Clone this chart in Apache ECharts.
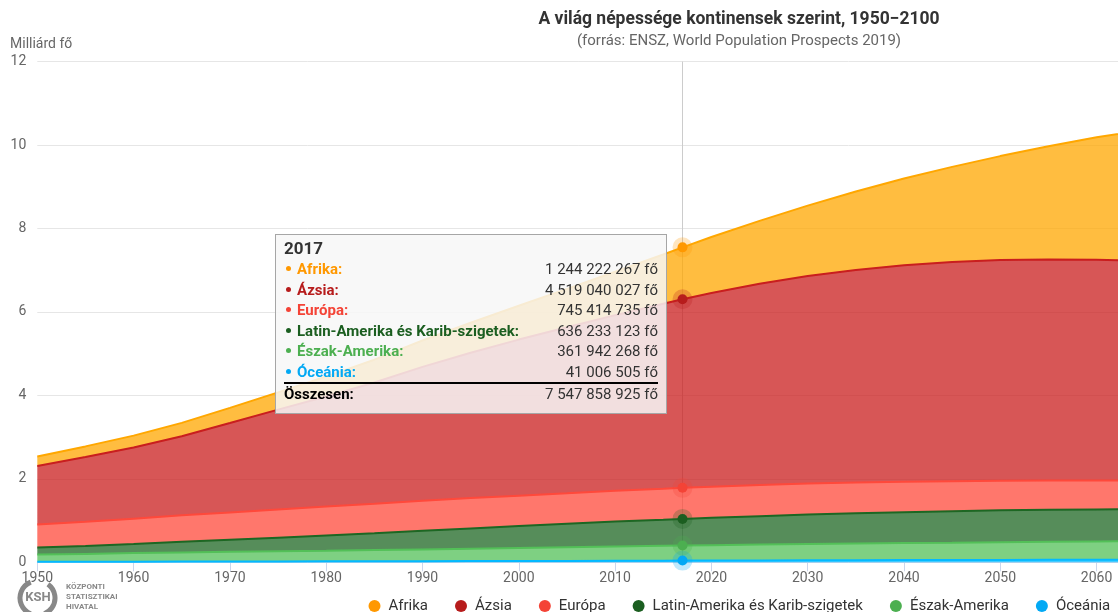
<!DOCTYPE html>
<html><head><meta charset="utf-8">
<script src="https://cdn.jsdelivr.net/npm/echarts@6/dist/echarts.min.js"></script>
<style>html,body{margin:0;padding:0;background:#fff}#c{width:1118px;height:612px}</style>
</head><body><div id="c"></div>
<script>
// Years (x values)
const years = [1950,1955,1960,1965,1970,1975,1980,1985,1990,1995,2000,2005,2010,2015,2017,2020,2025,2030,2035,2040,2045,2050,2055,2060,2065,2070,2075,2080,2085,2090,2095,2100];
// Population, million people
const afrika = [227.8,254.4,285.3,322.0,363.5,414.1,476.4,548.3,630.0,717.0,810.9,921.1,1039.3,1182.4,1244.222267,1340.6,1508.6,1688.3,1878.6,2077.4,2281.0,2489.3,2712.0,2935.0,3150.0,3355.0,3545.0,3725.0,3890.0,4040.0,4170.0,4280.1];
const azsia = [1404.9,1553.0,1705.0,1894.0,2142.0,2393.0,2640.0,2904.0,3210.0,3483.0,3741.0,3978.0,4209.0,4434.0,4519.040027,4641.1,4822.6,4974.0,5096.0,5189.0,5253.0,5290.3,5301.0,5291.0,5264.0,5222.0,5167.0,5101.0,5015.0,4920.0,4822.0,4719.8];
const europa = [549.3,577.0,605.5,634.6,657.4,677.2,694.1,708.1,720.6,727.9,725.6,729.2,736.4,741.5,745.414735,747.6,746.0,740.8,734.6,727.6,719.3,710.5,701.1,692.5,684.8,677.7,670.4,663.5,656.6,649.1,639.8,629.6];
const latin = [168.8,192.2,220.2,253.6,287.9,324.8,363.6,403.6,446.3,486.6,526.9,563.1,598.0,623.8,636.233123,653.9,679.5,706.0,726.3,741.6,753.6,762.4,766.9,767.4,764.2,758.4,750.5,740.9,729.6,716.6,701.9,679.9];
const eszak = [172.6,187.0,204.2,219.3,231.3,242.4,254.5,267.3,280.6,296.4,312.8,327.6,343.0,356.4,361.942268,368.9,380.4,390.8,399.9,407.5,414.4,425.2,431.1,437.6,444.1,450.6,456.8,462.9,468.5,474.1,480.0,491.0];
const oceania = [12.7,14.2,15.9,17.7,19.7,21.4,22.7,24.6,27.0,29.1,31.2,33.6,36.8,39.5,41.006505,42.7,45.4,48.1,50.8,53.4,55.8,57.4,59.6,61.5,63.4,65.1,66.7,68.2,69.6,70.8,72.0,74.6];
const legendOrder = ['Afrika','Ázsia','Európa','Latin-Amerika és Karib-szigetek','Észak-Amerika','Óceánia'];
const hoverYear = 2017;

const defs = [
  {name:'Óceánia', data:oceania, color:'#03A9F4', rgb:'3,169,244'},
  {name:'Észak-Amerika', data:eszak, color:'#4CAF50', rgb:'76,175,80'},
  {name:'Latin-Amerika és Karib-szigetek', data:latin, color:'#1B5E20', rgb:'27,94,32'},
  {name:'Európa', data:europa, color:'#F44336', rgb:'244,67,54'},
  {name:'Ázsia', data:azsia, color:'#B71C1C', rgb:'183,28,28'},
  {name:'Afrika', data:afrika, color:'#FF9800', rgb:'255,152,0'}
];

function fmt(n){ return String(Math.round(n)).replace(/\B(?=(\d{3})+(?!\d))/g,' '); }

const FONT = 'Roboto, "Noto Sans", sans-serif';
const chart = echarts.init(document.getElementById('c'), null, {renderer:'canvas'});

const option = {
  animation:false,
  textStyle:{fontFamily:FONT},
  grid:{left:37.3, top:61.6, bottom:49.7, right:-363.8, containLabel:false, outerBoundsMode:'none'},
  xAxis:{type:'value', min:1950, max:2100, interval:10,
    axisLine:{show:true, lineStyle:{color:'#ccd6eb'}},
    axisTick:{show:true, length:9, lineStyle:{color:'#ccd6eb'}},
    axisLabel:{color:'#666', fontSize:14, margin:9, fontFamily:FONT, formatter:v=>String(v)},
    splitLine:{show:false}},
  yAxis:{type:'value', min:0, max:12000, interval:2000,
    axisLine:{show:false}, axisTick:{show:false},
    axisLabel:{color:'#666', fontSize:14, margin:11, fontFamily:FONT, formatter:v=>String(v/1000)},
    splitLine:{lineStyle:{color:'#e6e6e6', width:1}}},
  legend:{data:legendOrder, left:368.5, top:598.5, width:900, padding:0, icon:'circle', itemWidth:12, itemHeight:12, itemGap:27,
    textStyle:{color:'#333', fontSize:15, fontFamily:FONT, padding:[0,0,0,3]}},
  tooltip:{trigger:'axis', triggerOn:'none', alwaysShowContent:true, transitionDuration:0,
    position:[275,234], padding:0, borderWidth:1, borderColor:'#a6a6a6', borderRadius:0,
    backgroundColor:'rgba(247,247,247,0.85)', extraCssText:'box-shadow:none;',
    axisPointer:{type:'line', animation:false, lineStyle:{color:'#cccccc', width:1, type:'solid'}, z:1},
    formatter:function(params){
      const yr = params[0].value[1];
      const rows = params.slice().reverse();
      let total = 0;
      let h = '<div style="width:374px;padding:3px 8px 8px 8px;font-family:Roboto,sans-serif;color:#333;">';
      h += '<div style="font-size:17px;font-weight:bold;line-height:21px;">'+yr+'</div>';
      rows.forEach(p=>{
        const v = p.value[0]*1e6; total += Math.round(v);
        h += '<div style="display:flex;justify-content:space-between;line-height:20.6px;font-size:15px;">'+
             '<span style="font-weight:bold;color:'+p.color+'"><span style="display:inline-block;width:5px;height:5px;border-radius:50%;background:'+p.color+';margin:0 6px 3px 2px;vertical-align:middle;"></span>'+p.seriesName+':</span>'+
             '<span>'+fmt(v)+' fő</span></div>';
      });
      h += '<div style="border-top:2px solid #000;margin-top:-1px;display:flex;justify-content:space-between;line-height:21px;font-size:15px;">'+
           '<span style="font-weight:bold;color:#000">Összesen:</span><span>'+fmt(total)+' fő</span></div>';
      h += '</div>';
      return h;
    }},
  graphic:[
    {type:'text', x:739, y:20, style:{text:'A világ népessége kontinensek szerint, 1950−2100', fill:'#333', font:'bold 17.5px Roboto, sans-serif', textAlign:'center', textVerticalAlign:'middle'}},
    {type:'text', x:739, y:41, style:{text:'(forrás: ENSZ, World Population Prospects 2019)', fill:'#666', font:'15px Roboto, sans-serif', textAlign:'center', textVerticalAlign:'middle'}},
    {type:'text', x:10, y:44, style:{text:'Milliárd fő', fill:'#666', font:'14px Roboto, sans-serif', textAlign:'left', textVerticalAlign:'middle'}},
    {type:'arc', shape:{cx:37, cy:598, r:17, startAngle:Math.PI*0.62, endAngle:Math.PI*1.38}, style:{stroke:'#888', lineWidth:5, fill:null}},
    {type:'arc', shape:{cx:38, cy:598, r:17, startAngle:-Math.PI*0.30, endAngle:Math.PI*0.38}, style:{stroke:'#888', lineWidth:5, fill:null}},
    {type:'text', x:38, y:598, style:{text:'KSH', fill:'#888', font:'bold 13px Roboto, sans-serif', textAlign:'center', textVerticalAlign:'middle'}},
    {type:'text', x:66, y:587, style:{text:'KÖZPONTI', fill:'#888', font:'bold 8px Roboto, sans-serif', textAlign:'left', textVerticalAlign:'middle'}},
    {type:'text', x:66, y:597, style:{text:'STATISZTIKAI', fill:'#888', font:'bold 8px Roboto, sans-serif', textAlign:'left', textVerticalAlign:'middle'}},
    {type:'text', x:66, y:607, style:{text:'HIVATAL', fill:'#888', font:'bold 8px Roboto, sans-serif', textAlign:'left', textVerticalAlign:'middle'}}
  ],
  series: defs.map(d=>({
    name:d.name, type:'line', stack:'total',
    data: years.map((y,i)=>[d.data[i], y]),
    encode:{x:1, y:0},
    showSymbol:false, symbol:'circle', symbolSize:10,
    lineStyle:{width:2, color:d.color},
    itemStyle:{color:d.color},
    areaStyle:{color:d.color, opacity:0.75},
    emphasis:{scale:false, lineStyle:{width:2}, areaStyle:{opacity:0.75},
      itemStyle:{color:d.color, borderColor:'rgba('+d.rgb+',0.25)', borderWidth:10}}
  }))
};
chart.setOption(option);
chart.dispatchAction({type:'showTip', seriesIndex:5, dataIndex:years.indexOf(hoverYear)});
</script>
</body></html>
